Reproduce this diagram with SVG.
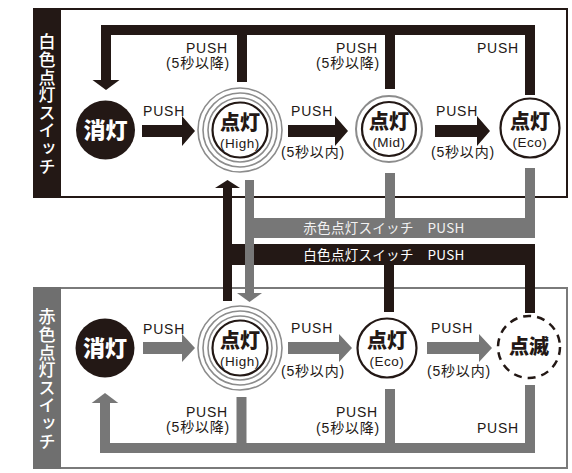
<svg xmlns="http://www.w3.org/2000/svg" width="572" height="473" viewBox="0 0 572 473">
<style>
.lbl{font-family:"Liberation Sans","Noto Sans CJK JP",sans-serif;font-size:14px;letter-spacing:0.8px;fill:#231815}
.end{text-anchor:end}
.big{font-family:"Noto Sans CJK JP",sans-serif;font-weight:900;font-size:20px;fill:#231815;text-anchor:middle}
.sub{font-family:"Liberation Sans","Noto Sans CJK JP",sans-serif;font-size:13.5px;letter-spacing:0.5px;fill:#231815;text-anchor:middle}
.side{font-family:"Noto Sans CJK JP",sans-serif;font-weight:500;font-size:17px;letter-spacing:0.8px;fill:#ffffff;writing-mode:vertical-rl}
.bar{font-family:"Noto Sans CJK JP","Liberation Sans",sans-serif;font-size:13.5px;letter-spacing:0.3px;text-anchor:middle}
.k{fill:#231815}
.g{fill:#777777}
.ks{fill:none;stroke:#231815;stroke-width:10}
.gs{fill:none;stroke:#777777;stroke-width:10}
.ring{fill:none;stroke:#8c8c8c;stroke-width:1.6}
.node{fill:#ffffff;stroke:#231815;stroke-width:2.2}
</style>

<g id="frames">
  <rect x="34" y="9" width="533" height="188" fill="#ffffff" stroke="#231815" stroke-width="2"/>
  <rect x="33" y="8" width="28" height="190" class="k"/>
  <text x="47" y="33" class="side">白色点灯スイッチ</text>
  <rect x="34" y="288" width="533" height="180" fill="#ffffff" stroke="#7a7a7a" stroke-width="2"/>
  <rect x="33" y="287" width="28" height="182" fill="#6f6f6f"/>
  <text x="47" y="308" class="side">赤色点灯スイッチ</text>
</g>

<g id="connectors">
  <!-- top loop (white switch, black) -->
  <path class="ks" d="M106,81 V30 H530 V95"/>
  <path class="ks" d="M242,30 V82"/>
  <path class="ks" d="M390,30 V89"/>
  <polygon class="k" points="92.5,80 119.5,80 106,90"/>
  <!-- top row arrows -->
  <path class="k" d="M142,125 H182 V116 L195,131 L182,146 V137 H142 Z"/>
  <path class="k" d="M288,125 H335 V116 L348,131 L335,146 V137 H288 Z"/>
  <path class="k" d="M435,125 H477 V116 L490,131 L477,146 V137 H435 Z"/>
  <!-- black bar & up arrow -->
  <rect class="k" x="223" y="244" width="312" height="21"/>
  <rect class="k" x="223" y="187" width="9" height="114"/>
  <polygon class="k" points="215,188 240,188 227.5,180"/>
  <rect class="k" x="384" y="264" width="10" height="48"/>
  <rect class="k" x="525" y="264" width="10" height="49"/>
  <!-- gray bar & down arrow -->
  <rect class="g" x="245" y="218" width="290" height="20"/>
  <rect class="g" x="385" y="173" width="10" height="46"/>
  <rect class="g" x="525" y="168" width="10" height="51"/>
  <rect class="g" x="245" y="180" width="9" height="114"/>
  <polygon class="g" points="237,293 262,293 249.5,302"/>
  <text x="384" y="233" class="bar" fill="#f2f2f2">赤色点灯スイッチ　PUSH</text>
  <text x="384" y="260" class="bar" fill="#ffffff">白色点灯スイッチ　PUSH</text>
  <!-- bottom row arrows -->
  <path class="g" d="M143,342 H182 V334 L195,348 L182,362 V354 H143 Z"/>
  <path class="g" d="M288,342 H339 V334 L352,348 L339,362 V354 H288 Z"/>
  <path class="g" d="M427,342 H479 V334 L492,348 L479,362 V354 H427 Z"/>
  <!-- bottom loop (red switch, gray) -->
  <path class="gs" d="M105,403 V448 H530 V385"/>
  <path class="gs" d="M241.5,397 V448"/>
  <path class="gs" d="M390,389 V448"/>
  <polygon class="g" points="91.7,403 118.3,403 105,393"/>
  <!-- labels -->
  <text x="228" y="53" class="lbl end">PUSH</text>
  <text x="230" y="68" class="lbl end">(5秒以降)</text>
  <text x="378" y="53" class="lbl end">PUSH</text>
  <text x="380" y="68" class="lbl end">(5秒以降)</text>
  <text x="519" y="53" class="lbl end">PUSH</text>
  <text x="143" y="116" class="lbl">PUSH</text>
  <text x="291" y="116" class="lbl">PUSH</text>
  <text x="281" y="157" class="lbl">(5秒以内)</text>
  <text x="436" y="116" class="lbl">PUSH</text>
  <text x="431" y="157" class="lbl">(5秒以内)</text>
  <text x="143" y="334" class="lbl">PUSH</text>
  <text x="291" y="333" class="lbl">PUSH</text>
  <text x="281" y="376" class="lbl">(5秒以内)</text>
  <text x="431" y="333" class="lbl">PUSH</text>
  <text x="427" y="376" class="lbl">(5秒以内)</text>
  <text x="228" y="417" class="lbl end">PUSH</text>
  <text x="230" y="432" class="lbl end">(5秒以降)</text>
  <text x="378" y="417" class="lbl end">PUSH</text>
  <text x="380" y="433" class="lbl end">(5秒以降)</text>
  <text x="519" y="433" class="lbl end">PUSH</text>
</g>

<g id="off_white">
  <circle cx="105.5" cy="130" r="29.5" class="k"/>
  <text x="105.5" y="138" class="big" style="fill:#ffffff;font-size:22px">消灯</text>
</g>
<g id="high_white">
  <circle cx="240" cy="130" r="42" class="ring"/>
  <circle cx="240" cy="130" r="37" class="ring"/>
  <circle cx="240" cy="130" r="32" class="ring"/>
  <circle cx="240" cy="130" r="27.5" class="node"/>
  <text x="240" y="130" class="big">点灯</text>
  <text x="240" y="148" class="sub">(High)</text>
</g>
<g id="mid_white">
  <circle cx="389" cy="129" r="33" class="ring" style="stroke-width:2"/>
  <circle cx="389" cy="129" r="27" class="node"/>
  <text x="389" y="129" class="big">点灯</text>
  <text x="389" y="147" class="sub">(Mid)</text>
</g>
<g id="eco_white">
  <circle cx="530" cy="128" r="29.5" class="node"/>
  <text x="530" y="129" class="big">点灯</text>
  <text x="530" y="147" class="sub">(Eco)</text>
</g>

<g id="off_red">
  <circle cx="105" cy="348" r="29.5" class="k"/>
  <text x="105" y="356" class="big" style="fill:#ffffff;font-size:22px">消灯</text>
</g>
<g id="high_red">
  <circle cx="240" cy="348" r="42" class="ring"/>
  <circle cx="240" cy="348" r="37" class="ring"/>
  <circle cx="240" cy="348" r="32" class="ring"/>
  <circle cx="240" cy="348" r="27.5" class="node"/>
  <text x="240" y="348" class="big">点灯</text>
  <text x="240" y="366" class="sub">(High)</text>
</g>
<g id="eco_red">
  <circle cx="387" cy="348" r="29.5" class="node"/>
  <text x="387" y="348" class="big">点灯</text>
  <text x="387" y="366" class="sub">(Eco)</text>
</g>
<g id="blink_red">
  <circle cx="529" cy="347" r="31" fill="#ffffff" stroke="#231815" stroke-width="2.5" stroke-dasharray="8 6"/>
  <text x="529" y="354" class="big">点滅</text>
</g>
</svg>
